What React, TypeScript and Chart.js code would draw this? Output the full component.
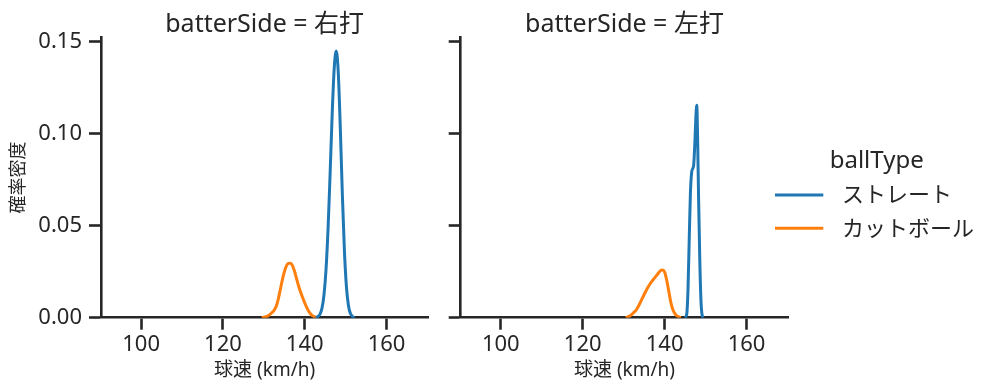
import React, { useEffect, useRef } from "react";
import { Chart, registerables } from "chart.js";
Chart.register(...registerables);

const FONT = '"Noto Sans", "Noto Sans CJK JP", sans-serif';
const TEXT = "#262626";

const panelTitles = ["batterSide = 右打", "batterSide = 左打"];
const seriesLabels = ["ストレート", "カットボール"];
const seriesColors = ["#1f77b4", "#ff7f0e"];
const legendTitle = "ballType";
const xLabel = "球速 (km/h)";
const yLabel = "確率密度";
const xTicks = [100, 120, 140, 160];
const yTicks = [0, 0.05, 0.1, 0.15];
const xMin = 90.2;
const xMax = 170.2;
const yMin = 0;
const yMax = 0.1524;

// 右打 ストレート
const rStraightX = [142.7, 143.2, 143.7, 144.2, 144.7, 145.2, 145.7, 146.2, 146.7, 147.2, 147.7, 148.2, 148.7, 149.2, 149.7, 150.2, 150.7, 151.2, 151.7, 152.2];
const rStraightY = [0.0001, 0.0006, 0.0018, 0.005, 0.0123, 0.0261, 0.0484, 0.0782, 0.1103, 0.1354, 0.145, 0.133, 0.1025, 0.0664, 0.0362, 0.0165, 0.0064, 0.0021, 0.0006, 0.0001];
// 右打 カットボール
const rCutX = [129.5, 130.0, 130.5, 131.0, 131.5, 132.0, 132.5, 133.0, 133.5, 134.0, 134.5, 135.0, 135.5, 136.0, 136.5, 137.0, 137.5, 138.0, 138.5, 139.0, 139.5, 140.0, 140.5, 141.0, 141.5, 142.0, 142.5, 143.0];
const rCutY = [0.0, 0.0002, 0.0005, 0.001, 0.0018, 0.0028, 0.004, 0.006, 0.0098, 0.015, 0.0203, 0.0248, 0.028, 0.0295, 0.0296, 0.0283, 0.0253, 0.0212, 0.0172, 0.0138, 0.0108, 0.008, 0.0055, 0.0034, 0.0019, 0.0009, 0.0004, 0.0001];
// 左打 ストレート
const lStraightX = [145.0, 145.4, 145.7, 146.0, 146.3, 146.6, 146.9, 147.1, 147.4, 147.65, 147.85, 148.05, 148.3, 148.6, 148.9, 149.2, 149.5];
const lStraightY = [0.0, 0.002, 0.015, 0.042, 0.068, 0.079, 0.0812, 0.083, 0.096, 0.11, 0.1155, 0.098, 0.064, 0.03, 0.008, 0.001, 0.0];
// 左打 カットボール
const lCutX = [130.5, 131.0, 131.5, 132.0, 132.5, 133.0, 133.5, 134.0, 134.5, 135.0, 135.5, 136.0, 136.5, 137.0, 137.5, 138.0, 138.5, 139.0, 139.5, 140.0, 140.5, 141.0, 141.5, 142.0, 142.5, 143.0, 143.5, 144.0];
const lCutY = [0.0001, 0.0004, 0.001, 0.0018, 0.0029, 0.004, 0.0058, 0.008, 0.0103, 0.0126, 0.0148, 0.0168, 0.0186, 0.0201, 0.0215, 0.0229, 0.0243, 0.0256, 0.0259, 0.0248, 0.0205, 0.0145, 0.0085, 0.0045, 0.0022, 0.001, 0.0004, 0.0001];

const panelSeries = [
  [
    [rStraightX, rStraightY],
    [rCutX, rCutY],
  ],
  [
    [lStraightX, lStraightY],
    [lCutX, lCutY],
  ],
];

const titlePlugin = {
  id: "panelTitle",
  afterDraw(chart: any, _args: any, opts: any) {
    const { ctx, chartArea } = chart;
    ctx.save();
    ctx.font = `25px ${FONT}`;
    ctx.fillStyle = TEXT;
    ctx.textAlign = "center";
    ctx.textBaseline = "alphabetic";
    ctx.fillText(opts.text, (chartArea.left + chartArea.right) / 2, 32);
    ctx.restore();
  },
};

const legendPlugin = {
  id: "sideLegend",
  afterDraw(chart: any, _args: any, opts: any) {
    if (!opts.show) return;
    const { ctx } = chart;
    const ox = opts.offsetX;
    ctx.save();
    ctx.fillStyle = TEXT;
    ctx.font = `24px ${FONT}`;
    ctx.textAlign = "center";
    ctx.textBaseline = "alphabetic";
    ctx.fillText(legendTitle, 876.7 - ox, 168);
    ctx.font = `22px ${FONT}`;
    ctx.textAlign = "left";
    ctx.textBaseline = "middle";
    seriesLabels.forEach((label, i) => {
      const y = 195 + i * 33.3;
      ctx.strokeStyle = seriesColors[i];
      ctx.lineWidth = 3;
      ctx.beginPath();
      ctx.moveTo(775 - ox, y);
      ctx.lineTo(823.3 - ox, y);
      ctx.stroke();
      ctx.fillStyle = TEXT;
      ctx.fillText(label, 842 - ox, y + 1);
    });
    ctx.restore();
  },
};

function makeConfig(panel: number): any {
  const isLeft = panel === 0;
  const datasets = panelSeries[panel].map(([xs, ys], i) => ({
    label: seriesLabels[i],
    data: xs.map((x, j) => ({ x, y: ys[j] })),
    borderColor: seriesColors[i],
    backgroundColor: seriesColors[i],
    borderWidth: 3,
    pointRadius: 0,
    fill: false,
    cubicInterpolationMode: "monotone",
  }));
  return {
    type: "line",
    data: { datasets },
    plugins: [titlePlugin, legendPlugin],
    options: {
      animation: false,
      responsive: false,
      events: [],
      layout: {
        padding: isLeft
          ? { left: 0, top: 37.3, right: 11.7, bottom: 0 }
          : { left: 0, top: 37.3, right: 208.7, bottom: 0 },
      },
      plugins: {
        legend: { display: false },
        tooltip: { enabled: false },
        panelTitle: { text: panelTitles[panel] },
        sideLegend: { show: !isLeft, offsetX: 440 },
      },
      scales: {
        x: {
          type: "linear",
          min: xMin,
          max: xMax,
          z: 1,
          afterBuildTicks: (s: any) => {
            s.ticks = xTicks.map((v) => ({ value: v }));
          },
          afterFit: (s: any) => {
            s.height = 73.3;
          },
          grid: {
            display: true,
            drawOnChartArea: false,
            drawTicks: true,
            tickLength: 12,
            tickWidth: 2.6,
            tickColor: TEXT,
            color: TEXT,
          },
          border: { display: true, color: TEXT, width: 2.6 },
          ticks: {
            color: TEXT,
            font: { family: FONT, size: 22 },
            padding: 2,
            maxRotation: 0,
            autoSkip: false,
            callback: (v: any) => String(v),
          },
          title: {
            display: true,
            text: xLabel,
            color: TEXT,
            font: { family: FONT, size: 19 },
            padding: { top: 0, bottom: 8.6 },
          },
        },
        y: {
          type: "linear",
          min: yMin,
          max: yMax,
          z: 1,
          afterBuildTicks: (s: any) => {
            s.ticks = yTicks.map((v) => ({ value: v }));
          },
          afterFit: (s: any) => {
            s.width = isLeft ? 101 : 20.7;
          },
          grid: {
            display: true,
            drawOnChartArea: false,
            drawTicks: true,
            tickLength: 12,
            tickWidth: 2.6,
            tickColor: TEXT,
            color: TEXT,
          },
          border: { display: true, color: TEXT, width: 2.6 },
          ticks: {
            color: TEXT,
            font: { family: FONT, size: 22 },
            padding: 7,
            callback: (v: any) => (isLeft ? Number(v).toFixed(2) : ""),
          },
          title: {
            display: isLeft,
            text: yLabel,
            color: TEXT,
            font: { family: FONT, size: 18 },
            padding: { top: 8.2, bottom: 0 },
          },
        },
      },
    },
  };
}

function Panel({ panel, left, width }: { panel: number; left: number; width: number }) {
  const ref = useRef<HTMLCanvasElement | null>(null);
  useEffect(() => {
    if (!ref.current) return;
    const chart = new Chart(ref.current, makeConfig(panel));
    return () => chart.destroy();
  }, [panel]);
  return (
    <canvas
      ref={ref}
      width={width}
      height={391}
      style={{ position: "absolute", left, top: 0, width, height: 391 }}
    />
  );
}

export default function App() {
  return (
    <div
      style={{
        position: "fixed",
        left: 0,
        top: 0,
        width: 997,
        height: 391,
        background: "#ffffff",
        overflow: "hidden",
      }}
    >
      <Panel panel={0} left={0} width={440} />
      <Panel panel={1} left={440} width={557} />
    </div>
  );
}
